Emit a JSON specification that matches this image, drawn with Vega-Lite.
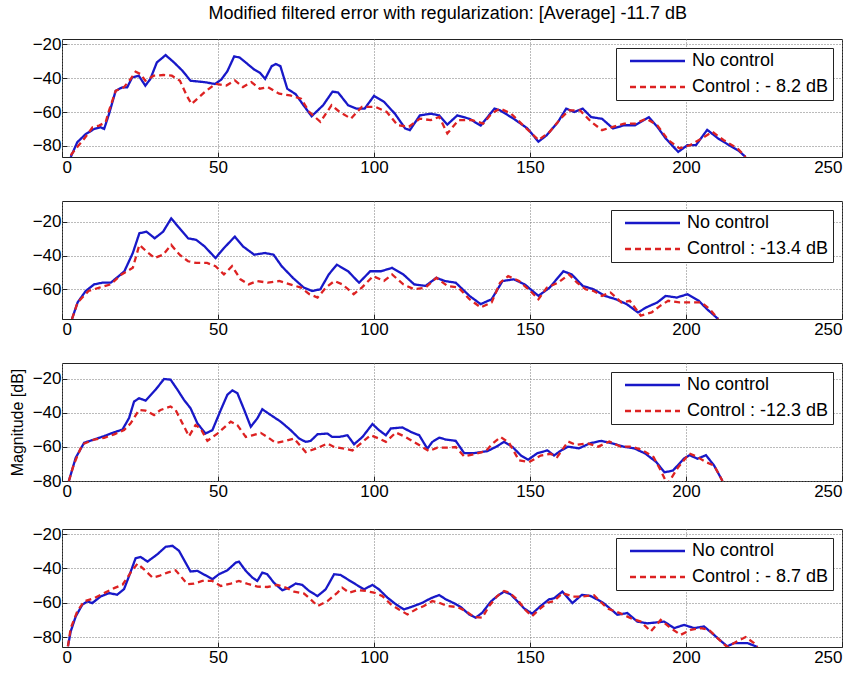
{
"$schema": "https://vega.github.io/schema/vega-lite/v6.json",
"title": {"text": "Modified filtered error with regularization: [Average] -11.7 dB", "anchor": "middle", "fontSize": 18, "font": "Liberation Sans", "fontWeight": "normal", "color": "#000", "offset": 12, "dx": 22},
"padding": {"left": 8, "top": 4, "right": 0, "bottom": 0},
"spacing": 24,
"datasets": {
"p1": [
{"s":"No control","x":2.8,"y":-86.5},{"s":"No control","x":4.9,"y":-77.8},{"s":"No control","x":7.6,"y":-73},{"s":"No control","x":10.3,"y":-70},{"s":"No control","x":12.4,"y":-69},{"s":"No control","x":13.5,"y":-70},{"s":"No control","x":15.1,"y":-61},{"s":"No control","x":17.2,"y":-47.5},{"s":"No control","x":19.3,"y":-45.5},{"s":"No control","x":20.9,"y":-45.5},{"s":"No control","x":22.5,"y":-39.6},{"s":"No control","x":24.6,"y":-38.6},{"s":"No control","x":26.7,"y":-44.5},{"s":"No control","x":28.3,"y":-40.6},{"s":"No control","x":30.4,"y":-30.8},{"s":"No control","x":33.2,"y":-26.5},{"s":"No control","x":35.9,"y":-30.8},{"s":"No control","x":38.6,"y":-35.7},{"s":"No control","x":41.2,"y":-41.6},{"s":"No control","x":43.5,"y":-42},{"s":"No control","x":46,"y":-42.5},{"s":"No control","x":49,"y":-43.5},{"s":"No control","x":51,"y":-41},{"s":"No control","x":53,"y":-36},{"s":"No control","x":55.2,"y":-27.2},{"s":"No control","x":57,"y":-28},{"s":"No control","x":59,"y":-31},{"s":"No control","x":61.6,"y":-35},{"s":"No control","x":63.5,"y":-37},{"s":"No control","x":65.1,"y":-40.5},{"s":"No control","x":67.2,"y":-33},{"s":"No control","x":68.5,"y":-31.7},{"s":"No control","x":70,"y":-33},{"s":"No control","x":72.2,"y":-46.3},{"s":"No control","x":74.9,"y":-49.5},{"s":"No control","x":77,"y":-55},{"s":"No control","x":80,"y":-62.5},{"s":"No control","x":83.7,"y":-56},{"s":"No control","x":86.7,"y":-48},{"s":"No control","x":88.5,"y":-48.5},{"s":"No control","x":91.7,"y":-56},{"s":"No control","x":94.3,"y":-58},{"s":"No control","x":97,"y":-58},{"s":"No control","x":100,"y":-50.5},{"s":"No control","x":103.2,"y":-54},{"s":"No control","x":106.7,"y":-61},{"s":"No control","x":110,"y":-69.7},{"s":"No control","x":111.5,"y":-70.7},{"s":"No control","x":114.7,"y":-62},{"s":"No control","x":118.2,"y":-61},{"s":"No control","x":120.9,"y":-62},{"s":"No control","x":123.5,"y":-67.4},{"s":"No control","x":126.7,"y":-62},{"s":"No control","x":130.6,"y":-64},{"s":"No control","x":134.2,"y":-68},{"s":"No control","x":138.6,"y":-58},{"s":"No control","x":140.4,"y":-59},{"s":"No control","x":144.8,"y":-64},{"s":"No control","x":149.2,"y":-69.7},{"s":"No control","x":152.7,"y":-77.5},{"s":"No control","x":155.4,"y":-73.6},{"s":"No control","x":159,"y":-65.8},{"s":"No control","x":161.6,"y":-58},{"s":"No control","x":164.2,"y":-60},{"s":"No control","x":166.9,"y":-58},{"s":"No control","x":169.6,"y":-63},{"s":"No control","x":173.1,"y":-64},{"s":"No control","x":176.6,"y":-69.7},{"s":"No control","x":180.2,"y":-67.8},{"s":"No control","x":183.7,"y":-67.8},{"s":"No control","x":186.4,"y":-64.8},{"s":"No control","x":188.1,"y":-63},{"s":"No control","x":190.8,"y":-68.7},{"s":"No control","x":193.5,"y":-75.6},{"s":"No control","x":197.5,"y":-83.5},{"s":"No control","x":200.5,"y":-79.5},{"s":"No control","x":203.2,"y":-79.5},{"s":"No control","x":206.8,"y":-70.5},{"s":"No control","x":210.3,"y":-75.6},{"s":"No control","x":213.8,"y":-79.5},{"s":"No control","x":217,"y":-83},{"s":"No control","x":219.1,"y":-86.5},
{"s":"Control : - 8.2 dB","x":2.8,"y":-85.5},{"s":"Control : - 8.2 dB","x":4.4,"y":-81.7},{"s":"Control : - 8.2 dB","x":7.1,"y":-75.8},{"s":"Control : - 8.2 dB","x":9.8,"y":-69},{"s":"Control : - 8.2 dB","x":11.9,"y":-68},{"s":"Control : - 8.2 dB","x":14,"y":-66},{"s":"Control : - 8.2 dB","x":15.1,"y":-59},{"s":"Control : - 8.2 dB","x":17.2,"y":-47.5},{"s":"Control : - 8.2 dB","x":19.8,"y":-45.5},{"s":"Control : - 8.2 dB","x":22,"y":-40.6},{"s":"Control : - 8.2 dB","x":23.6,"y":-36.3},{"s":"Control : - 8.2 dB","x":25.2,"y":-37.7},{"s":"Control : - 8.2 dB","x":26.7,"y":-41.6},{"s":"Control : - 8.2 dB","x":29.4,"y":-38.6},{"s":"Control : - 8.2 dB","x":32.5,"y":-38.2},{"s":"Control : - 8.2 dB","x":35.2,"y":-38.6},{"s":"Control : - 8.2 dB","x":37.8,"y":-41.6},{"s":"Control : - 8.2 dB","x":40,"y":-50.4},{"s":"Control : - 8.2 dB","x":41.5,"y":-55.3},{"s":"Control : - 8.2 dB","x":43.5,"y":-52},{"s":"Control : - 8.2 dB","x":45.7,"y":-48.3},{"s":"Control : - 8.2 dB","x":49.2,"y":-43.4},{"s":"Control : - 8.2 dB","x":52.7,"y":-44.4},{"s":"Control : - 8.2 dB","x":55.4,"y":-41.4},{"s":"Control : - 8.2 dB","x":58,"y":-45.3},{"s":"Control : - 8.2 dB","x":60.7,"y":-42.4},{"s":"Control : - 8.2 dB","x":63.4,"y":-46.3},{"s":"Control : - 8.2 dB","x":66,"y":-45.3},{"s":"Control : - 8.2 dB","x":69.6,"y":-49.2},{"s":"Control : - 8.2 dB","x":73.1,"y":-50.2},{"s":"Control : - 8.2 dB","x":76.6,"y":-52.2},{"s":"Control : - 8.2 dB","x":79.3,"y":-60},{"s":"Control : - 8.2 dB","x":82.8,"y":-65.8},{"s":"Control : - 8.2 dB","x":86.4,"y":-56},{"s":"Control : - 8.2 dB","x":89,"y":-60},{"s":"Control : - 8.2 dB","x":92.6,"y":-63.9},{"s":"Control : - 8.2 dB","x":96.1,"y":-57},{"s":"Control : - 8.2 dB","x":100.5,"y":-57},{"s":"Control : - 8.2 dB","x":104.1,"y":-60},{"s":"Control : - 8.2 dB","x":107.6,"y":-67.8},{"s":"Control : - 8.2 dB","x":111.2,"y":-68.7},{"s":"Control : - 8.2 dB","x":114.7,"y":-63.9},{"s":"Control : - 8.2 dB","x":118.2,"y":-64.8},{"s":"Control : - 8.2 dB","x":120.9,"y":-62.9},{"s":"Control : - 8.2 dB","x":123.5,"y":-72.6},{"s":"Control : - 8.2 dB","x":127.1,"y":-64.8},{"s":"Control : - 8.2 dB","x":131.5,"y":-64.8},{"s":"Control : - 8.2 dB","x":135,"y":-66.8},{"s":"Control : - 8.2 dB","x":137.7,"y":-60.9},{"s":"Control : - 8.2 dB","x":140.4,"y":-58},{"s":"Control : - 8.2 dB","x":143.9,"y":-60.9},{"s":"Control : - 8.2 dB","x":148.3,"y":-68.7},{"s":"Control : - 8.2 dB","x":152.7,"y":-76.5},{"s":"Control : - 8.2 dB","x":156.3,"y":-71.7},{"s":"Control : - 8.2 dB","x":159.8,"y":-63.9},{"s":"Control : - 8.2 dB","x":162.5,"y":-59},{"s":"Control : - 8.2 dB","x":166,"y":-59},{"s":"Control : - 8.2 dB","x":169.6,"y":-65.8},{"s":"Control : - 8.2 dB","x":173.1,"y":-70.7},{"s":"Control : - 8.2 dB","x":176.6,"y":-68.7},{"s":"Control : - 8.2 dB","x":180.2,"y":-66.8},{"s":"Control : - 8.2 dB","x":183.7,"y":-66.8},{"s":"Control : - 8.2 dB","x":187.3,"y":-63.9},{"s":"Control : - 8.2 dB","x":190.8,"y":-67.8},{"s":"Control : - 8.2 dB","x":194.3,"y":-76.5},{"s":"Control : - 8.2 dB","x":197.9,"y":-81.4},{"s":"Control : - 8.2 dB","x":201.4,"y":-79.5},{"s":"Control : - 8.2 dB","x":205,"y":-75.6},{"s":"Control : - 8.2 dB","x":208.5,"y":-71.7},{"s":"Control : - 8.2 dB","x":212,"y":-76.5},{"s":"Control : - 8.2 dB","x":216.5,"y":-81.4},{"s":"Control : - 8.2 dB","x":219.1,"y":-86.5}
],
"p2": [
{"s":"No control","x":3.2,"y":-77.6},{"s":"No control","x":5,"y":-67.8},{"s":"No control","x":7.6,"y":-61},{"s":"No control","x":10.3,"y":-57.1},{"s":"No control","x":12.9,"y":-56.1},{"s":"No control","x":15.6,"y":-56.1},{"s":"No control","x":18.2,"y":-52.2},{"s":"No control","x":20,"y":-49.3},{"s":"No control","x":22.7,"y":-38.5},{"s":"No control","x":24.8,"y":-26.8},{"s":"No control","x":27.1,"y":-25.9},{"s":"No control","x":29.7,"y":-29.8},{"s":"No control","x":32.4,"y":-25.9},{"s":"No control","x":35,"y":-18},{"s":"No control","x":37.7,"y":-23.9},{"s":"No control","x":40.4,"y":-29.8},{"s":"No control","x":43,"y":-30.7},{"s":"No control","x":45.7,"y":-34.6},{"s":"No control","x":49.2,"y":-41.5},{"s":"No control","x":51.9,"y":-35.6},{"s":"No control","x":55.4,"y":-28.8},{"s":"No control","x":58,"y":-34.6},{"s":"No control","x":61.6,"y":-39.5},{"s":"No control","x":65.1,"y":-38.5},{"s":"No control","x":67.8,"y":-39.5},{"s":"No control","x":70.4,"y":-46.3},{"s":"No control","x":74,"y":-53.2},{"s":"No control","x":77.5,"y":-59},{"s":"No control","x":80.2,"y":-61},{"s":"No control","x":82.8,"y":-60},{"s":"No control","x":85.5,"y":-51.2},{"s":"No control","x":88.1,"y":-45.4},{"s":"No control","x":91.7,"y":-49.3},{"s":"No control","x":95.2,"y":-56.1},{"s":"No control","x":98.8,"y":-49.3},{"s":"No control","x":102.3,"y":-49.3},{"s":"No control","x":105.8,"y":-47.3},{"s":"No control","x":109.4,"y":-51.2},{"s":"No control","x":112.9,"y":-57.1},{"s":"No control","x":116.5,"y":-58},{"s":"No control","x":120,"y":-53.2},{"s":"No control","x":122.7,"y":-55.1},{"s":"No control","x":126.2,"y":-56.1},{"s":"No control","x":130.6,"y":-63.9},{"s":"No control","x":134.2,"y":-68.8},{"s":"No control","x":137.7,"y":-65.9},{"s":"No control","x":141.2,"y":-55.1},{"s":"No control","x":144.8,"y":-54.1},{"s":"No control","x":148.3,"y":-57.1},{"s":"No control","x":152.7,"y":-63.9},{"s":"No control","x":156.3,"y":-59},{"s":"No control","x":160.7,"y":-49.3},{"s":"No control","x":163.4,"y":-51.2},{"s":"No control","x":166.9,"y":-58},{"s":"No control","x":170.4,"y":-60},{"s":"No control","x":174,"y":-63.9},{"s":"No control","x":177.5,"y":-65.9},{"s":"No control","x":181,"y":-68.8},{"s":"No control","x":184.6,"y":-73.7},{"s":"No control","x":187.3,"y":-70.7},{"s":"No control","x":190.8,"y":-67.8},{"s":"No control","x":193.5,"y":-63.9},{"s":"No control","x":197,"y":-64.9},{"s":"No control","x":200.5,"y":-62.9},{"s":"No control","x":204.1,"y":-66.8},{"s":"No control","x":206.7,"y":-71.7},{"s":"No control","x":210.3,"y":-77.6},
{"s":"Control : -13.4 dB","x":3.2,"y":-77.6},{"s":"Control : -13.4 dB","x":5,"y":-67.8},{"s":"Control : -13.4 dB","x":8.5,"y":-61},{"s":"Control : -13.4 dB","x":12,"y":-59},{"s":"Control : -13.4 dB","x":15.6,"y":-57.1},{"s":"Control : -13.4 dB","x":19.1,"y":-51.2},{"s":"Control : -13.4 dB","x":22.7,"y":-47.3},{"s":"Control : -13.4 dB","x":24.8,"y":-33.7},{"s":"Control : -13.4 dB","x":27.1,"y":-37.6},{"s":"Control : -13.4 dB","x":29.7,"y":-41.5},{"s":"Control : -13.4 dB","x":32.4,"y":-39.5},{"s":"Control : -13.4 dB","x":35,"y":-33.7},{"s":"Control : -13.4 dB","x":37.7,"y":-39.5},{"s":"Control : -13.4 dB","x":40.4,"y":-43.4},{"s":"Control : -13.4 dB","x":43,"y":-44.4},{"s":"Control : -13.4 dB","x":46.5,"y":-44.4},{"s":"Control : -13.4 dB","x":49.2,"y":-46.3},{"s":"Control : -13.4 dB","x":51.9,"y":-51.2},{"s":"Control : -13.4 dB","x":54.5,"y":-46.3},{"s":"Control : -13.4 dB","x":57.2,"y":-54.1},{"s":"Control : -13.4 dB","x":59.8,"y":-57.1},{"s":"Control : -13.4 dB","x":62.5,"y":-55.1},{"s":"Control : -13.4 dB","x":66,"y":-56.1},{"s":"Control : -13.4 dB","x":69.6,"y":-55.1},{"s":"Control : -13.4 dB","x":73.1,"y":-57.1},{"s":"Control : -13.4 dB","x":76.6,"y":-59},{"s":"Control : -13.4 dB","x":79.3,"y":-62.9},{"s":"Control : -13.4 dB","x":81.9,"y":-64.9},{"s":"Control : -13.4 dB","x":84.6,"y":-59},{"s":"Control : -13.4 dB","x":87.3,"y":-55.1},{"s":"Control : -13.4 dB","x":89.9,"y":-57.1},{"s":"Control : -13.4 dB","x":93.5,"y":-62.9},{"s":"Control : -13.4 dB","x":96.1,"y":-59},{"s":"Control : -13.4 dB","x":99.7,"y":-52.2},{"s":"Control : -13.4 dB","x":103.2,"y":-55.1},{"s":"Control : -13.4 dB","x":105.8,"y":-51.2},{"s":"Control : -13.4 dB","x":109.4,"y":-57.1},{"s":"Control : -13.4 dB","x":112.9,"y":-60},{"s":"Control : -13.4 dB","x":116.5,"y":-59},{"s":"Control : -13.4 dB","x":120,"y":-53.2},{"s":"Control : -13.4 dB","x":123.5,"y":-58},{"s":"Control : -13.4 dB","x":127.1,"y":-59},{"s":"Control : -13.4 dB","x":130.6,"y":-65.9},{"s":"Control : -13.4 dB","x":134.2,"y":-70.7},{"s":"Control : -13.4 dB","x":137.7,"y":-67.8},{"s":"Control : -13.4 dB","x":140.4,"y":-56.1},{"s":"Control : -13.4 dB","x":143,"y":-52.2},{"s":"Control : -13.4 dB","x":146.5,"y":-55.1},{"s":"Control : -13.4 dB","x":150.1,"y":-61},{"s":"Control : -13.4 dB","x":152.7,"y":-65.9},{"s":"Control : -13.4 dB","x":155.4,"y":-59},{"s":"Control : -13.4 dB","x":159,"y":-56.1},{"s":"Control : -13.4 dB","x":162.5,"y":-51.2},{"s":"Control : -13.4 dB","x":165.1,"y":-56.1},{"s":"Control : -13.4 dB","x":167.8,"y":-60},{"s":"Control : -13.4 dB","x":170.4,"y":-61},{"s":"Control : -13.4 dB","x":173.1,"y":-63.9},{"s":"Control : -13.4 dB","x":175.8,"y":-61.9},{"s":"Control : -13.4 dB","x":179.3,"y":-67.8},{"s":"Control : -13.4 dB","x":182,"y":-66.8},{"s":"Control : -13.4 dB","x":185.5,"y":-75.6},{"s":"Control : -13.4 dB","x":189,"y":-73.7},{"s":"Control : -13.4 dB","x":191.7,"y":-69.8},{"s":"Control : -13.4 dB","x":194.3,"y":-66.8},{"s":"Control : -13.4 dB","x":197.9,"y":-67.8},{"s":"Control : -13.4 dB","x":201.4,"y":-67.8},{"s":"Control : -13.4 dB","x":204.9,"y":-67.8},{"s":"Control : -13.4 dB","x":207.6,"y":-71.7},{"s":"Control : -13.4 dB","x":210.3,"y":-77.6}
],
"p3": [
{"s":"No control","x":2.2,"y":-80},{"s":"No control","x":4.4,"y":-66.3},{"s":"No control","x":7.1,"y":-57.5},{"s":"No control","x":10.3,"y":-55.6},{"s":"No control","x":13.5,"y":-53.6},{"s":"No control","x":16.2,"y":-51.7},{"s":"No control","x":19.4,"y":-49.7},{"s":"No control","x":21.5,"y":-42.9},{"s":"No control","x":23.1,"y":-33.3},{"s":"No control","x":24.7,"y":-31.3},{"s":"No control","x":26.8,"y":-32.7},{"s":"No control","x":30,"y":-26.3},{"s":"No control","x":32.7,"y":-20},{"s":"No control","x":34.8,"y":-20.4},{"s":"No control","x":37,"y":-26.3},{"s":"No control","x":39.1,"y":-32.3},{"s":"No control","x":41.2,"y":-37.2},{"s":"No control","x":43.4,"y":-46.1},{"s":"No control","x":46,"y":-52.1},{"s":"No control","x":48.2,"y":-50.1},{"s":"No control","x":50.9,"y":-38.2},{"s":"No control","x":53,"y":-29.3},{"s":"No control","x":54.6,"y":-26.7},{"s":"No control","x":56.2,"y":-28.3},{"s":"No control","x":58.4,"y":-38.2},{"s":"No control","x":60.5,"y":-48.1},{"s":"No control","x":62.6,"y":-43.2},{"s":"No control","x":64.2,"y":-37.8},{"s":"No control","x":66.9,"y":-41.2},{"s":"No control","x":70.1,"y":-45.1},{"s":"No control","x":73.3,"y":-50.1},{"s":"No control","x":76,"y":-55},{"s":"No control","x":78.1,"y":-57},{"s":"No control","x":79.7,"y":-56.4},{"s":"No control","x":81.9,"y":-52.5},{"s":"No control","x":85.1,"y":-52.1},{"s":"No control","x":86.6,"y":-54.1},{"s":"No control","x":88.8,"y":-54.1},{"s":"No control","x":91.5,"y":-53.1},{"s":"No control","x":93.6,"y":-58.4},{"s":"No control","x":96.3,"y":-54.1},{"s":"No control","x":99.5,"y":-46.5},{"s":"No control","x":101.6,"y":-50.1},{"s":"No control","x":103.8,"y":-53.1},{"s":"No control","x":105.4,"y":-49.1},{"s":"No control","x":109.1,"y":-48.5},{"s":"No control","x":111.8,"y":-51.1},{"s":"No control","x":114.5,"y":-53.1},{"s":"No control","x":117.1,"y":-61},{"s":"No control","x":118.7,"y":-57},{"s":"No control","x":120.9,"y":-54.5},{"s":"No control","x":123,"y":-55.6},{"s":"No control","x":126.2,"y":-56.4},{"s":"No control","x":128.9,"y":-63.6},{"s":"No control","x":132.1,"y":-63.6},{"s":"No control","x":136.4,"y":-62.4},{"s":"No control","x":139,"y":-60},{"s":"No control","x":141.7,"y":-57},{"s":"No control","x":144.4,"y":-60},{"s":"No control","x":147.1,"y":-65},{"s":"No control","x":149.4,"y":-67.5},{"s":"No control","x":152.4,"y":-63.6},{"s":"No control","x":155.6,"y":-62},{"s":"No control","x":157.7,"y":-65},{"s":"No control","x":160,"y":-62},{"s":"No control","x":162.2,"y":-59.8},{"s":"No control","x":165.7,"y":-60.8},{"s":"No control","x":169.3,"y":-57.8},{"s":"No control","x":172.8,"y":-56.4},{"s":"No control","x":176.3,"y":-57.8},{"s":"No control","x":179.9,"y":-59.8},{"s":"No control","x":183.4,"y":-60.8},{"s":"No control","x":186.9,"y":-63.8},{"s":"No control","x":190.5,"y":-68.9},{"s":"No control","x":193.1,"y":-74.9},{"s":"No control","x":195.8,"y":-73.9},{"s":"No control","x":199.3,"y":-66.9},{"s":"No control","x":201.1,"y":-64.8},{"s":"No control","x":203.7,"y":-66.9},{"s":"No control","x":206.4,"y":-64.8},{"s":"No control","x":209,"y":-70.9},{"s":"No control","x":211.7,"y":-80},
{"s":"Control : -12.3 dB","x":2.2,"y":-80},{"s":"Control : -12.3 dB","x":3.8,"y":-70.2},{"s":"Control : -12.3 dB","x":6.5,"y":-58.5},{"s":"Control : -12.3 dB","x":10.3,"y":-55.6},{"s":"Control : -12.3 dB","x":13.5,"y":-54.6},{"s":"Control : -12.3 dB","x":16.7,"y":-52.6},{"s":"Control : -12.3 dB","x":19.9,"y":-50},{"s":"Control : -12.3 dB","x":22,"y":-46.1},{"s":"Control : -12.3 dB","x":24.7,"y":-38.2},{"s":"Control : -12.3 dB","x":26.8,"y":-38.6},{"s":"Control : -12.3 dB","x":29.5,"y":-41.2},{"s":"Control : -12.3 dB","x":31.6,"y":-38.2},{"s":"Control : -12.3 dB","x":34.8,"y":-36.2},{"s":"Control : -12.3 dB","x":36.4,"y":-38.2},{"s":"Control : -12.3 dB","x":38.6,"y":-46.1},{"s":"Control : -12.3 dB","x":40.7,"y":-53.7},{"s":"Control : -12.3 dB","x":42.8,"y":-47.1},{"s":"Control : -12.3 dB","x":44.4,"y":-49.1},{"s":"Control : -12.3 dB","x":46.6,"y":-56.4},{"s":"Control : -12.3 dB","x":49.8,"y":-52.1},{"s":"Control : -12.3 dB","x":54.1,"y":-45.1},{"s":"Control : -12.3 dB","x":56.2,"y":-47.1},{"s":"Control : -12.3 dB","x":58.9,"y":-54.1},{"s":"Control : -12.3 dB","x":61,"y":-53.1},{"s":"Control : -12.3 dB","x":63.7,"y":-51.7},{"s":"Control : -12.3 dB","x":65.8,"y":-54.1},{"s":"Control : -12.3 dB","x":68.5,"y":-57.6},{"s":"Control : -12.3 dB","x":71.7,"y":-56.4},{"s":"Control : -12.3 dB","x":74.4,"y":-55},{"s":"Control : -12.3 dB","x":78.1,"y":-63},{"s":"Control : -12.3 dB","x":81.3,"y":-61},{"s":"Control : -12.3 dB","x":85.1,"y":-58},{"s":"Control : -12.3 dB","x":87.2,"y":-60},{"s":"Control : -12.3 dB","x":90.4,"y":-61},{"s":"Control : -12.3 dB","x":93.1,"y":-62},{"s":"Control : -12.3 dB","x":95.7,"y":-58},{"s":"Control : -12.3 dB","x":98.9,"y":-53.1},{"s":"Control : -12.3 dB","x":101.6,"y":-55},{"s":"Control : -12.3 dB","x":103.8,"y":-57},{"s":"Control : -12.3 dB","x":107,"y":-51.5},{"s":"Control : -12.3 dB","x":110.1,"y":-54.1},{"s":"Control : -12.3 dB","x":112.8,"y":-57},{"s":"Control : -12.3 dB","x":115.5,"y":-60},{"s":"Control : -12.3 dB","x":117.6,"y":-62.4},{"s":"Control : -12.3 dB","x":120.3,"y":-60.4},{"s":"Control : -12.3 dB","x":123.5,"y":-60.4},{"s":"Control : -12.3 dB","x":126.2,"y":-60},{"s":"Control : -12.3 dB","x":128.9,"y":-65.5},{"s":"Control : -12.3 dB","x":132.6,"y":-64},{"s":"Control : -12.3 dB","x":135.8,"y":-62.4},{"s":"Control : -12.3 dB","x":138,"y":-58},{"s":"Control : -12.3 dB","x":140.6,"y":-54.1},{"s":"Control : -12.3 dB","x":143.3,"y":-57.6},{"s":"Control : -12.3 dB","x":146.5,"y":-67.9},{"s":"Control : -12.3 dB","x":149.7,"y":-68.9},{"s":"Control : -12.3 dB","x":153.4,"y":-65},{"s":"Control : -12.3 dB","x":156.6,"y":-64},{"s":"Control : -12.3 dB","x":158.7,"y":-65.9},{"s":"Control : -12.3 dB","x":162.2,"y":-56.8},{"s":"Control : -12.3 dB","x":164.8,"y":-58.8},{"s":"Control : -12.3 dB","x":168.4,"y":-57.8},{"s":"Control : -12.3 dB","x":171.9,"y":-59.8},{"s":"Control : -12.3 dB","x":175.4,"y":-56.8},{"s":"Control : -12.3 dB","x":179,"y":-59.8},{"s":"Control : -12.3 dB","x":182.5,"y":-59.8},{"s":"Control : -12.3 dB","x":186,"y":-61.8},{"s":"Control : -12.3 dB","x":189.6,"y":-65.9},{"s":"Control : -12.3 dB","x":192.2,"y":-74.9},{"s":"Control : -12.3 dB","x":194,"y":-82},{"s":"Control : -12.3 dB","x":197.5,"y":-71.9},{"s":"Control : -12.3 dB","x":201.1,"y":-63.8},{"s":"Control : -12.3 dB","x":203.7,"y":-65.9},{"s":"Control : -12.3 dB","x":206.4,"y":-68.9},{"s":"Control : -12.3 dB","x":209,"y":-70.9},{"s":"Control : -12.3 dB","x":211.7,"y":-80}
],
"p4": [
{"s":"No control","x":1.9,"y":-85.4},{"s":"No control","x":2.8,"y":-76.7},{"s":"No control","x":4.4,"y":-68},{"s":"No control","x":6.5,"y":-61.2},{"s":"No control","x":8.1,"y":-59.2},{"s":"No control","x":9.7,"y":-60.2},{"s":"No control","x":12.4,"y":-56.3},{"s":"No control","x":15.1,"y":-54.4},{"s":"No control","x":17.7,"y":-55.3},{"s":"No control","x":19.9,"y":-52},{"s":"No control","x":21.5,"y":-44.4},{"s":"No control","x":23.6,"y":-34},{"s":"No control","x":25.2,"y":-33.3},{"s":"No control","x":27.4,"y":-36},{"s":"No control","x":30.6,"y":-31.7},{"s":"No control","x":33.2,"y":-27.4},{"s":"No control","x":35.4,"y":-26.8},{"s":"No control","x":37.5,"y":-29.7},{"s":"No control","x":39.6,"y":-36.6},{"s":"No control","x":41.2,"y":-41.8},{"s":"No control","x":43.4,"y":-41.4},{"s":"No control","x":46,"y":-44},{"s":"No control","x":48.2,"y":-46.3},{"s":"No control","x":50.3,"y":-43.4},{"s":"No control","x":53,"y":-41.1},{"s":"No control","x":55.7,"y":-36.6},{"s":"No control","x":56.7,"y":-36},{"s":"No control","x":58.9,"y":-41.4},{"s":"No control","x":61,"y":-45.3},{"s":"No control","x":62.6,"y":-47.3},{"s":"No control","x":64.2,"y":-42.4},{"s":"No control","x":65.8,"y":-43.4},{"s":"No control","x":67.9,"y":-48.3},{"s":"No control","x":70.6,"y":-52.7},{"s":"No control","x":72.8,"y":-51.2},{"s":"No control","x":74.9,"y":-48.8},{"s":"No control","x":77,"y":-49.6},{"s":"No control","x":79.2,"y":-53.1},{"s":"No control","x":81.9,"y":-56.1},{"s":"No control","x":84.5,"y":-52.2},{"s":"No control","x":87.2,"y":-43.4},{"s":"No control","x":89.3,"y":-43.8},{"s":"No control","x":91.5,"y":-46.3},{"s":"No control","x":94.1,"y":-49.2},{"s":"No control","x":96.8,"y":-52.2},{"s":"No control","x":99.5,"y":-49.6},{"s":"No control","x":101.6,"y":-52.2},{"s":"No control","x":104.3,"y":-57},{"s":"No control","x":107,"y":-60.9},{"s":"No control","x":109.6,"y":-63.9},{"s":"No control","x":112.8,"y":-61.9},{"s":"No control","x":115.5,"y":-60},{"s":"No control","x":118.2,"y":-57.4},{"s":"No control","x":120.9,"y":-55.5},{"s":"No control","x":123,"y":-58},{"s":"No control","x":125.9,"y":-60.5},{"s":"No control","x":127.8,"y":-62.5},{"s":"No control","x":130.5,"y":-66.8},{"s":"No control","x":132.6,"y":-68.7},{"s":"No control","x":134.7,"y":-65.8},{"s":"No control","x":137.4,"y":-59.4},{"s":"No control","x":139.5,"y":-56.1},{"s":"No control","x":141.7,"y":-53.5},{"s":"No control","x":143.8,"y":-55.1},{"s":"No control","x":145.9,"y":-59},{"s":"No control","x":148.1,"y":-63.3},{"s":"No control","x":150.7,"y":-66.4},{"s":"No control","x":153.4,"y":-61.9},{"s":"No control","x":156.1,"y":-58},{"s":"No control","x":157.7,"y":-57.4},{"s":"No control","x":160.4,"y":-53.5},{"s":"No control","x":163.6,"y":-60.2},{"s":"No control","x":166.6,"y":-55.4},{"s":"No control","x":169.3,"y":-56},{"s":"No control","x":172,"y":-58.5},{"s":"No control","x":173.7,"y":-60.4},{"s":"No control","x":178,"y":-67},{"s":"No control","x":181.2,"y":-66},{"s":"No control","x":184.4,"y":-71},{"s":"No control","x":187.6,"y":-72},{"s":"No control","x":193,"y":-71},{"s":"No control","x":196.2,"y":-74.8},{"s":"No control","x":199.4,"y":-72.9},{"s":"No control","x":202.6,"y":-74.8},{"s":"No control","x":205.8,"y":-73.8},{"s":"No control","x":209.5,"y":-79.6},{"s":"No control","x":213.2,"y":-85.4},{"s":"No control","x":215.4,"y":-83.5},{"s":"No control","x":219.7,"y":-83.5},{"s":"No control","x":222.9,"y":-85.8},
{"s":"Control : - 8.7 dB","x":1.9,"y":-85.4},{"s":"Control : - 8.7 dB","x":2.8,"y":-74.8},{"s":"Control : - 8.7 dB","x":4.9,"y":-65},{"s":"Control : - 8.7 dB","x":7.1,"y":-59.2},{"s":"Control : - 8.7 dB","x":10.3,"y":-57.3},{"s":"Control : - 8.7 dB","x":13.5,"y":-54.4},{"s":"Control : - 8.7 dB","x":16.7,"y":-51.5},{"s":"Control : - 8.7 dB","x":19.4,"y":-49.5},{"s":"Control : - 8.7 dB","x":22,"y":-42.4},{"s":"Control : - 8.7 dB","x":24.2,"y":-37.2},{"s":"Control : - 8.7 dB","x":26.3,"y":-40.5},{"s":"Control : - 8.7 dB","x":29,"y":-45.3},{"s":"Control : - 8.7 dB","x":31.1,"y":-44.4},{"s":"Control : - 8.7 dB","x":33.8,"y":-42.4},{"s":"Control : - 8.7 dB","x":36.4,"y":-41.1},{"s":"Control : - 8.7 dB","x":38,"y":-44.4},{"s":"Control : - 8.7 dB","x":40.2,"y":-49.2},{"s":"Control : - 8.7 dB","x":42.3,"y":-48.8},{"s":"Control : - 8.7 dB","x":45,"y":-47.3},{"s":"Control : - 8.7 dB","x":48.2,"y":-47.3},{"s":"Control : - 8.7 dB","x":50.9,"y":-50.2},{"s":"Control : - 8.7 dB","x":54.1,"y":-48.8},{"s":"Control : - 8.7 dB","x":56.7,"y":-47.3},{"s":"Control : - 8.7 dB","x":59.9,"y":-49.2},{"s":"Control : - 8.7 dB","x":62.6,"y":-50.6},{"s":"Control : - 8.7 dB","x":65.8,"y":-50.8},{"s":"Control : - 8.7 dB","x":69,"y":-49.6},{"s":"Control : - 8.7 dB","x":71.7,"y":-51.2},{"s":"Control : - 8.7 dB","x":74.4,"y":-53.5},{"s":"Control : - 8.7 dB","x":77.6,"y":-54.7},{"s":"Control : - 8.7 dB","x":79.7,"y":-58},{"s":"Control : - 8.7 dB","x":81.9,"y":-61.9},{"s":"Control : - 8.7 dB","x":85.1,"y":-59},{"s":"Control : - 8.7 dB","x":88.3,"y":-54.1},{"s":"Control : - 8.7 dB","x":89.8,"y":-51.2},{"s":"Control : - 8.7 dB","x":92,"y":-54.1},{"s":"Control : - 8.7 dB","x":94.7,"y":-52.7},{"s":"Control : - 8.7 dB","x":97.3,"y":-53.1},{"s":"Control : - 8.7 dB","x":100,"y":-54.1},{"s":"Control : - 8.7 dB","x":102.7,"y":-56.1},{"s":"Control : - 8.7 dB","x":105.4,"y":-60.9},{"s":"Control : - 8.7 dB","x":108,"y":-63.9},{"s":"Control : - 8.7 dB","x":110.7,"y":-66.8},{"s":"Control : - 8.7 dB","x":113.4,"y":-63.9},{"s":"Control : - 8.7 dB","x":116,"y":-61.9},{"s":"Control : - 8.7 dB","x":118.7,"y":-59},{"s":"Control : - 8.7 dB","x":120.9,"y":-60},{"s":"Control : - 8.7 dB","x":123.5,"y":-61.9},{"s":"Control : - 8.7 dB","x":126.7,"y":-62.5},{"s":"Control : - 8.7 dB","x":129.4,"y":-64.8},{"s":"Control : - 8.7 dB","x":132.1,"y":-68.3},{"s":"Control : - 8.7 dB","x":134.7,"y":-68.7},{"s":"Control : - 8.7 dB","x":136.9,"y":-61.9},{"s":"Control : - 8.7 dB","x":139.5,"y":-56.1},{"s":"Control : - 8.7 dB","x":141.7,"y":-53.1},{"s":"Control : - 8.7 dB","x":143.3,"y":-54.1},{"s":"Control : - 8.7 dB","x":145.9,"y":-58},{"s":"Control : - 8.7 dB","x":148.6,"y":-64.4},{"s":"Control : - 8.7 dB","x":150.7,"y":-67.8},{"s":"Control : - 8.7 dB","x":152.9,"y":-63.9},{"s":"Control : - 8.7 dB","x":155.6,"y":-60},{"s":"Control : - 8.7 dB","x":157.7,"y":-59},{"s":"Control : - 8.7 dB","x":160.4,"y":-54.4},{"s":"Control : - 8.7 dB","x":163.9,"y":-56.4},{"s":"Control : - 8.7 dB","x":166.6,"y":-56.4},{"s":"Control : - 8.7 dB","x":170.5,"y":-55.6},{"s":"Control : - 8.7 dB","x":174.8,"y":-63.3},{"s":"Control : - 8.7 dB","x":179,"y":-66.2},{"s":"Control : - 8.7 dB","x":182.3,"y":-69},{"s":"Control : - 8.7 dB","x":185.5,"y":-71},{"s":"Control : - 8.7 dB","x":188.7,"y":-76.7},{"s":"Control : - 8.7 dB","x":191.9,"y":-70},{"s":"Control : - 8.7 dB","x":195.1,"y":-74.8},{"s":"Control : - 8.7 dB","x":198.3,"y":-78.7},{"s":"Control : - 8.7 dB","x":201.5,"y":-75.8},{"s":"Control : - 8.7 dB","x":204.7,"y":-74.8},{"s":"Control : - 8.7 dB","x":207.4,"y":-75.8},{"s":"Control : - 8.7 dB","x":210.1,"y":-80.6},{"s":"Control : - 8.7 dB","x":213.2,"y":-85.8},{"s":"Control : - 8.7 dB","x":216.4,"y":-82.5},{"s":"Control : - 8.7 dB","x":219.1,"y":-80},{"s":"Control : - 8.7 dB","x":221.8,"y":-83.5},{"s":"Control : - 8.7 dB","x":222.9,"y":-85.8}
]
},
"config": {
"view": {"stroke": "#222", "strokeWidth": 1},
"font": "Liberation Sans",
"axis": {"labelFont": "Liberation Sans", "labelFontSize": 17, "labelColor": "#000", "grid": true, "gridDash": [1, 2], "gridColor": "#777", "gridOpacity": 1, "gridWidth": 1, "domain": false, "ticks": true, "tickColor": "#222", "tickSize": -5, "titleFont": "Liberation Sans", "titleFontWeight": "normal", "titleFontSize": 16, "titleColor": "#000"},
"axisX": {"labelPadding": 7},
"axisY": {"labelPadding": 6},
"legend": {"orient": "top-right", "offset": 9, "fillColor": "white", "strokeColor": "#222", "padding": 4, "symbolOffset": 6, "symbolType": "M-1,0H10", "symbolSize": 100, "symbolStrokeWidth": 2.3, "labelFont": "Liberation Sans", "labelFontSize": 18, "labelColor": "#000", "labelOffset": 48, "rowPadding": 8, "title": null}
},
"resolve": {"scale": {"color": "independent", "strokeDash": "independent", "y": "independent"}, "legend": {"color": "independent", "strokeDash": "independent"}},
"vconcat": [
{"data": {"name": "p1"}, "width": 780, "height": 118,
 "mark": {"type": "line", "clip": true, "strokeWidth": 2.3},
 "encoding": {
  "x": {"field": "x", "type": "quantitative", "scale": {"domain": [0, 250], "nice": false}, "axis": {"values": [0, 50, 100, 150, 200, 250], "title": null}},
  "y": {"field": "y", "type": "quantitative", "scale": {"domain": [-86.5, -17], "nice": false, "zero": false}, "axis": {"values": [-20, -40, -60, -80], "title": null}},
  "color": {"field": "s", "type": "nominal", "scale": {"domain": ["No control", "Control : - 8.2 dB"], "range": ["#1818c8", "#dd2222"]}, "legend": {"title": null}},
  "strokeDash": {"field": "s", "type": "nominal", "scale": {"domain": ["No control", "Control : - 8.2 dB"], "range": [[1, 0], [6, 4]]}, "legend": {"title": null}}
 }},
{"data": {"name": "p2"}, "width": 780, "height": 118,
 "mark": {"type": "line", "clip": true, "strokeWidth": 2.3},
 "encoding": {
  "x": {"field": "x", "type": "quantitative", "scale": {"domain": [0, 250], "nice": false}, "axis": {"values": [0, 50, 100, 150, 200, 250], "title": null}},
  "y": {"field": "y", "type": "quantitative", "scale": {"domain": [-77.6, -7.7], "nice": false, "zero": false}, "axis": {"values": [-20, -40, -60], "title": null}},
  "color": {"field": "s", "type": "nominal", "scale": {"domain": ["No control", "Control : -13.4 dB"], "range": ["#1818c8", "#dd2222"]}, "legend": {"title": null}},
  "strokeDash": {"field": "s", "type": "nominal", "scale": {"domain": ["No control", "Control : -13.4 dB"], "range": [[1, 0], [6, 4]]}, "legend": {"title": null}}
 }},
{"data": {"name": "p3"}, "width": 780, "height": 118,
 "mark": {"type": "line", "clip": true, "strokeWidth": 2.3},
 "encoding": {
  "x": {"field": "x", "type": "quantitative", "scale": {"domain": [0, 250], "nice": false}, "axis": {"values": [0, 50, 100, 150, 200, 250], "title": null}},
  "y": {"field": "y", "type": "quantitative", "scale": {"domain": [-80, -10.6], "nice": false, "zero": false}, "axis": {"values": [-20, -40, -60, -80], "title": "Magnitude [dB]", "titlePadding": 7}},
  "color": {"field": "s", "type": "nominal", "scale": {"domain": ["No control", "Control : -12.3 dB"], "range": ["#1818c8", "#dd2222"]}, "legend": {"title": null}},
  "strokeDash": {"field": "s", "type": "nominal", "scale": {"domain": ["No control", "Control : -12.3 dB"], "range": [[1, 0], [6, 4]]}, "legend": {"title": null}}
 }},
{"data": {"name": "p4"}, "width": 780, "height": 118,
 "mark": {"type": "line", "clip": true, "strokeWidth": 2.3},
 "encoding": {
  "x": {"field": "x", "type": "quantitative", "scale": {"domain": [0, 250], "nice": false}, "axis": {"values": [0, 50, 100, 150, 200, 250], "title": null}},
  "y": {"field": "y", "type": "quantitative", "scale": {"domain": [-85.8, -17], "nice": false, "zero": false}, "axis": {"values": [-20, -40, -60, -80], "title": null}},
  "color": {"field": "s", "type": "nominal", "scale": {"domain": ["No control", "Control : - 8.7 dB"], "range": ["#1818c8", "#dd2222"]}, "legend": {"title": null}},
  "strokeDash": {"field": "s", "type": "nominal", "scale": {"domain": ["No control", "Control : - 8.7 dB"], "range": [[1, 0], [6, 4]]}, "legend": {"title": null}}
 }}
]
}
